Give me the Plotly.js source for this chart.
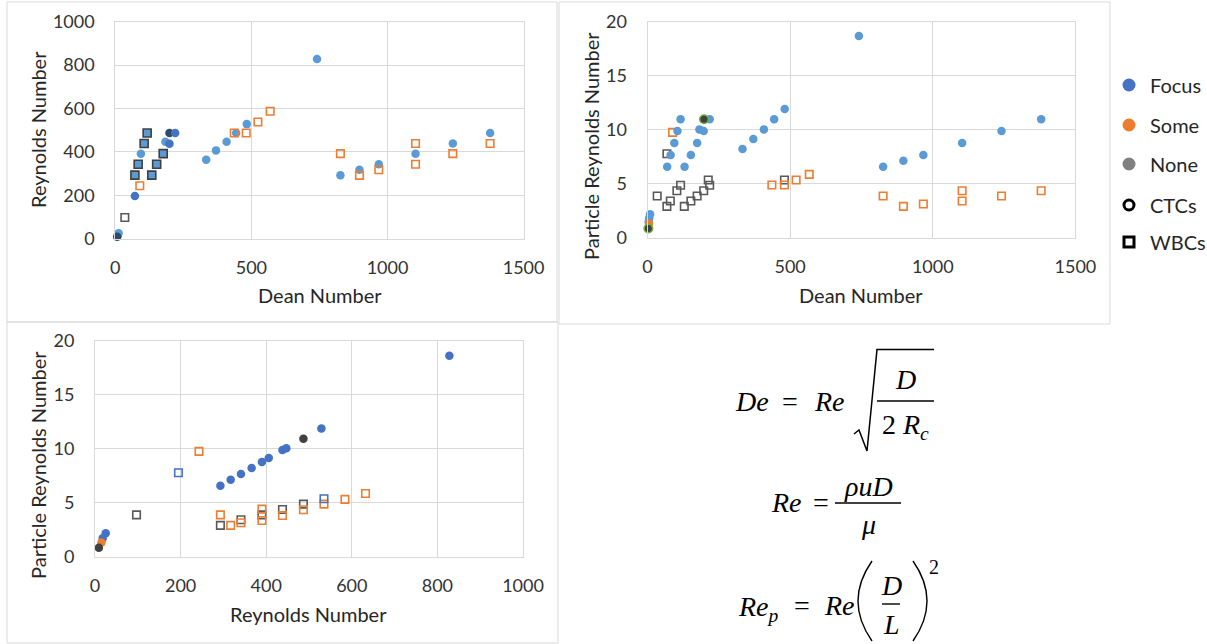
<!DOCTYPE html>
<html><head><meta charset="utf-8">
<script src="https://cdn.plot.ly/plotly-3.0.1.min.js"></script>
<style>html,body{margin:0;padding:0;background:#fff}</style>
</head><body><div id="chart" style="width:1207px;height:644px"></div>
<script>
// ---------- Panel 1: Reynolds Number vs Dean Number ----------
const p1FocusDe   = [12, 94, 184, 334, 370, 409, 444, 483, 741, 827, 897, 968, 1103, 1240, 1377];
const p1FocusRe   = [25, 392, 447, 364, 407, 447, 487, 528, 828, 292, 318, 343, 392, 439, 487];
const p1FocusDkDe = [72, 199, 220];
const p1FocusDkRe = [197, 438, 487];
const p1NoneCtcDe = [199, 7];
const p1NoneCtcRe = [487, 9];
const p1GreenDe   = [9];
const p1GreenRe   = [16];
const p1WbcFillDe = [72, 84, 106, 117, 134, 152, 176];
const p1WbcFillRe = [293, 343, 439, 487, 293, 343, 392];
const p1NoneWbcDe = [35];
const p1NoneWbcRe = [98];
const p1SomeWbcDe = [90, 437, 481, 524, 569, 827, 897, 968, 1103, 1103, 1240, 1377];
const p1SomeWbcRe = [244, 487, 487, 538, 587, 392, 292, 318, 439, 343, 392, 439];

// ---------- Panel 2: Particle Reynolds Number vs Dean Number ----------
const p2FocusDe  = [9, 6, 4, 69, 81, 94, 105, 116, 130, 152, 174, 182, 197, 218, 333, 371, 408, 444, 481, 741, 826, 897, 967, 1103, 1241, 1380];
const p2FocusRep = [2.16, 1.79, 1.5, 6.57, 7.65, 8.77, 9.88, 10.96, 6.57, 7.65, 8.77, 10.03, 9.88, 10.96, 8.21, 9.14, 10.03, 10.96, 11.91, 18.67, 6.57, 7.13, 7.65, 8.77, 9.88, 10.96];
const p2SomeCtcDe  = [5];
const p2SomeCtcRep = [1.3];
const p2NoneCtcDe  = [3, 198];
const p2NoneCtcRep = [0.85, 10.96];
const p2SomeWbcDe  = [88, 436, 480, 521, 567, 826, 897, 967, 1103, 1103, 1241, 1380];
const p2SomeWbcRep = [9.75, 4.88, 4.88, 5.34, 5.86, 3.86, 2.9, 3.12, 4.35, 3.4, 3.86, 4.35];
const p2NoneWbcDe  = [34, 68, 68, 80, 103, 116, 129, 152, 174, 197, 213, 218, 480];
const p2NoneWbcRep = [3.86, 7.78, 2.9, 3.4, 4.35, 4.85, 2.9, 3.4, 3.86, 4.35, 5.34, 4.85, 5.34];

// ---------- Panel 3: Particle Reynolds Number vs Reynolds Number ----------
const p3FocusRe  = [25, 18, 293, 317, 341, 366, 390, 406, 438, 447, 529, 828];
const p3FocusRep = [2.19, 1.73, 6.58, 7.14, 7.67, 8.22, 8.78, 9.15, 9.89, 10.05, 11.9, 18.64];
const p3SomeCtcRe  = [15];
const p3SomeCtcRep = [1.33];
const p3NoneCtcRe  = [9, 487];
const p3NoneCtcRep = [0.83, 10.94];
const p3FocusWbcRe  = [195, 535];
const p3FocusWbcRep = [7.79, 5.38];
const p3SomeWbcRe  = [243, 293, 317, 341, 390, 390, 438, 487, 535, 584, 632];
const p3SomeWbcRep = [9.77, 3.89, 2.91, 3.15, 4.42, 3.37, 3.83, 4.36, 4.88, 5.32, 5.87];
const p3NoneWbcRe  = [97, 293, 341, 390, 438, 487];
const p3NoneWbcRep = [3.89, 2.91, 3.43, 3.89, 4.39, 4.88];

// ---------- Legend ----------
const legendLabels = ['Focus', 'Some', 'None', 'CTCs', 'WBCs'];

// ---------- helpers ----------
const W = 1207, H = 644;
const fx = x => x / W;
const fy = y => 1 - y / H;
const BLUE_L = '#5B9BD5', BLUE_D = '#4472C4', ORANGE = '#ED7D31', GRAY = '#595959', DARK = '#404040', GREEN = '#70AD47';

function circ(x, y, ax, color, line) {
  return {type: 'scatter', mode: 'markers', x: x, y: y, xaxis: 'x' + ax, yaxis: 'y' + ax,
    cliponaxis: false, hoverinfo: 'x+y',
    marker: {symbol: 'circle', size: 8.5, color: color, line: line || {width: 0}}};
}
function sqOpen(x, y, ax, color) {
  return {type: 'scatter', mode: 'markers', x: x, y: y, xaxis: 'x' + ax, yaxis: 'y' + ax,
    cliponaxis: false, hoverinfo: 'x+y',
    marker: {symbol: 'square-open', size: 7.5, color: color, line: {color: color, width: 1.6}}};
}
function sqFill(x, y, ax, color, edge) {
  return {type: 'scatter', mode: 'markers', x: x, y: y, xaxis: 'x' + ax, yaxis: 'y' + ax,
    cliponaxis: false, hoverinfo: 'x+y',
    marker: {symbol: 'square', size: 8, color: color, line: {color: edge, width: 1.6}}};
}

const data = [
  // panel 1
  circ(p1GreenDe, p1GreenRe, '', GREEN),
  circ(p1FocusDe, p1FocusRe, '', BLUE_L),
  sqOpen(p1NoneWbcDe, p1NoneWbcRe, '', GRAY),
  sqOpen(p1SomeWbcDe, p1SomeWbcRe, '', ORANGE),
  sqFill(p1WbcFillDe, p1WbcFillRe, '', BLUE_L, DARK),
  circ(p1NoneCtcDe, p1NoneCtcRe, '', '#2E4A6B'),
  circ(p1FocusDkDe, p1FocusDkRe, '', BLUE_D),
  // panel 2
  sqOpen(p2NoneWbcDe, p2NoneWbcRep, '2', GRAY),
  sqOpen(p2SomeWbcDe, p2SomeWbcRep, '2', ORANGE),
  circ(p2FocusDe, p2FocusRep, '2', BLUE_L),
  circ(p2SomeCtcDe, p2SomeCtcRep, '2', ORANGE),
  circ(p2NoneCtcDe, p2NoneCtcRep, '2', DARK, {color: GREEN, width: 1.5}),
  // panel 3
  sqOpen(p3NoneWbcRe, p3NoneWbcRep, '3', GRAY),
  sqOpen(p3SomeWbcRe, p3SomeWbcRep, '3', ORANGE),
  sqOpen(p3FocusWbcRe, p3FocusWbcRep, '3', BLUE_D),
  circ(p3FocusRe, p3FocusRep, '3', BLUE_D),
  circ(p3SomeCtcRe, p3SomeCtcRep, '3', ORANGE),
  circ(p3NoneCtcRe, p3NoneCtcRep, '3', DARK)
];

const TICKFONT = {family: 'Lato, "Open Sans", sans-serif', size: 18, color: '#333333'};
function axis(dom, range, dtick, anchor, standoff) {
  return {domain: dom, range: range, dtick: dtick, tick0: 0, anchor: anchor,
    gridcolor: '#D9D9D9', gridwidth: 1, zeroline: false,
    showline: true, linecolor: '#D9D9D9', linewidth: 1, mirror: true,
    ticks: '', ticklabelstandoff: standoff, tickfont: TICKFONT, fixedrange: true};
}

const TITLEFONT = {family: 'Lato, "Open Sans", sans-serif', size: 20, color: '#262626'};
const annotations = [];
function txt(text, x, y, opts) {
  annotations.push(Object.assign({text: text, x: fx(x), y: fy(y), xref: 'paper', yref: 'paper',
    showarrow: false, xanchor: 'center', yanchor: 'middle', font: TITLEFONT}, opts || {}));
}
// axis titles
txt('Dean Number', 320, 295);
txt('Reynolds Number', 38, 130, {textangle: -90});
txt('Dean Number', 861, 295);
txt('Particle Reynolds Number', 591, 146, {textangle: -90});
txt('Reynolds Number', 309, 614);
txt('Particle Reynolds Number', 38, 465, {textangle: -90});

// legend labels
const legY = [85, 125, 164, 205, 242];
legendLabels.forEach((l, i) => txt(l, 1148, legY[i], {xanchor: 'left', font: {family: 'Lato, "Open Sans", sans-serif', size: 20, color: '#262626'}}));

// equations
const EQ = {family: '"Liberation Serif", "DejaVu Serif", serif', size: 28, color: '#000000'};
const EQS = Object.assign({}, EQ, {size: 20});
txt('<i>De</i>', 752, 401, {font: EQ});
txt('=', 790, 401, {font: EQ});
txt('<i>Re</i>', 829, 401, {font: EQ});
txt('<i>D</i>', 905, 379, {font: EQ});
txt('2 <i>R</i><sub><i>c</i></sub>', 905, 426, {font: EQ});
txt('<i>Re</i>', 786, 503, {font: EQ});
txt('=', 821, 503, {font: EQ});
txt('<i>ρuD</i>', 868, 486, {font: EQ});
txt('<i>μ</i>', 868, 524, {font: EQ});
txt('<i>Re</i><sub><i>p</i></sub>', 736, 608, {font: EQ, xanchor: 'left'});
txt('=', 802, 605, {font: EQ});
txt('<i>Re</i>', 839, 605, {font: EQ});
txt('<i>D</i>', 891, 585, {font: EQ});
txt('<i>L</i>', 891, 624, {font: EQ});
txt('2', 934, 567, {font: EQS});

function line(x0, y0, x1, y1, w) {
  return {type: 'line', xref: 'paper', yref: 'paper', x0: fx(x0), y0: fy(y0), x1: fx(x1), y1: fy(y1),
    line: {color: '#000', width: w || 1.5}};
}
function path(pts, w) {
  return {type: 'path', xref: 'paper', yref: 'paper', path: pts, line: {color: '#000', width: w || 1.5}};
}
const P = (x, y) => fx(x) + ',' + fy(y);

const shapes = [
  {type: 'rect', xref: 'paper', yref: 'paper', x0: fx(7), x1: fx(557), y0: fy(322), y1: fy(2), line: {color: '#D9D9D9', width: 1}, layer: 'below'},
  {type: 'rect', xref: 'paper', yref: 'paper', x0: fx(559), x1: fx(1110), y0: fy(324), y1: fy(2), line: {color: '#D9D9D9', width: 1}, layer: 'below'},
  {type: 'rect', xref: 'paper', yref: 'paper', x0: fx(7), x1: fx(558), y0: fy(643), y1: fy(322), line: {color: '#D9D9D9', width: 1}, layer: 'below'},
  {type: 'circle', xref: 'paper', yref: 'paper', x0: fx(1122.5), x1: fx(1135.5), y0: fy(legY[0] + 6.5), y1: fy(legY[0] - 6.5), fillcolor: BLUE_D, line: {width: 0}},
  {type: 'circle', xref: 'paper', yref: 'paper', x0: fx(1122.5), x1: fx(1135.5), y0: fy(legY[1] + 6.5), y1: fy(legY[1] - 6.5), fillcolor: ORANGE, line: {width: 0}},
  {type: 'circle', xref: 'paper', yref: 'paper', x0: fx(1122.5), x1: fx(1135.5), y0: fy(legY[2] + 6.5), y1: fy(legY[2] - 6.5), fillcolor: '#808080', line: {width: 0}},
  {type: 'circle', xref: 'paper', yref: 'paper', x0: fx(1124), x1: fx(1134), y0: fy(legY[3] + 5), y1: fy(legY[3] - 5), fillcolor: 'rgba(0,0,0,0)', line: {color: '#000', width: 3}},
  {type: 'rect', xref: 'paper', yref: 'paper', x0: fx(1124), x1: fx(1134), y0: fy(legY[4] + 5), y1: fy(legY[4] - 5), fillcolor: 'rgba(0,0,0,0)', line: {color: '#000', width: 3}},
  path('M' + P(854, 434) + ' L' + P(859, 430) + ' L' + P(867, 451) + ' L' + P(877, 349.5) + ' L' + P(934, 349.5), 1.5),
  line(877, 401, 934, 401, 1.4),
  line(835, 503, 901, 503, 1.4),
  path('M' + P(872, 561) + ' Q' + P(844, 601) + ' ' + P(872, 641), 1.4),
  path('M' + P(913, 561) + ' Q' + P(941, 601) + ' ' + P(913, 641), 1.4),
  line(882, 604, 900, 604, 1.4)
];

const layout = {
  width: W, height: H, margin: {l: 0, r: 0, t: 0, b: 0},
  paper_bgcolor: '#ffffff', plot_bgcolor: '#ffffff', showlegend: false,
  xaxis:  axis([fx(115.3), fx(523.6)], [0, 1500], 500, 'y', 13),
  yaxis:  axis([fy(238.7), fy(21.7)], [0, 1000], 200, 'x', 16),
  xaxis2: axis([fx(647.5), fx(1075.4)], [0, 1500], 500, 'y2', 13),
  yaxis2: axis([fy(237.7), fy(21.7)], [0, 20], 5, 'x2', 16),
  xaxis3: axis([fx(95), fx(523)], [0, 1000], 200, 'y3', 13),
  yaxis3: axis([fy(556.8), fy(341)], [0, 20], 5, 'x3', 16),
  annotations: annotations,
  shapes: shapes
};

Plotly.newPlot('chart', data, layout, {staticPlot: true, displayModeBar: false});
</script></body></html>
